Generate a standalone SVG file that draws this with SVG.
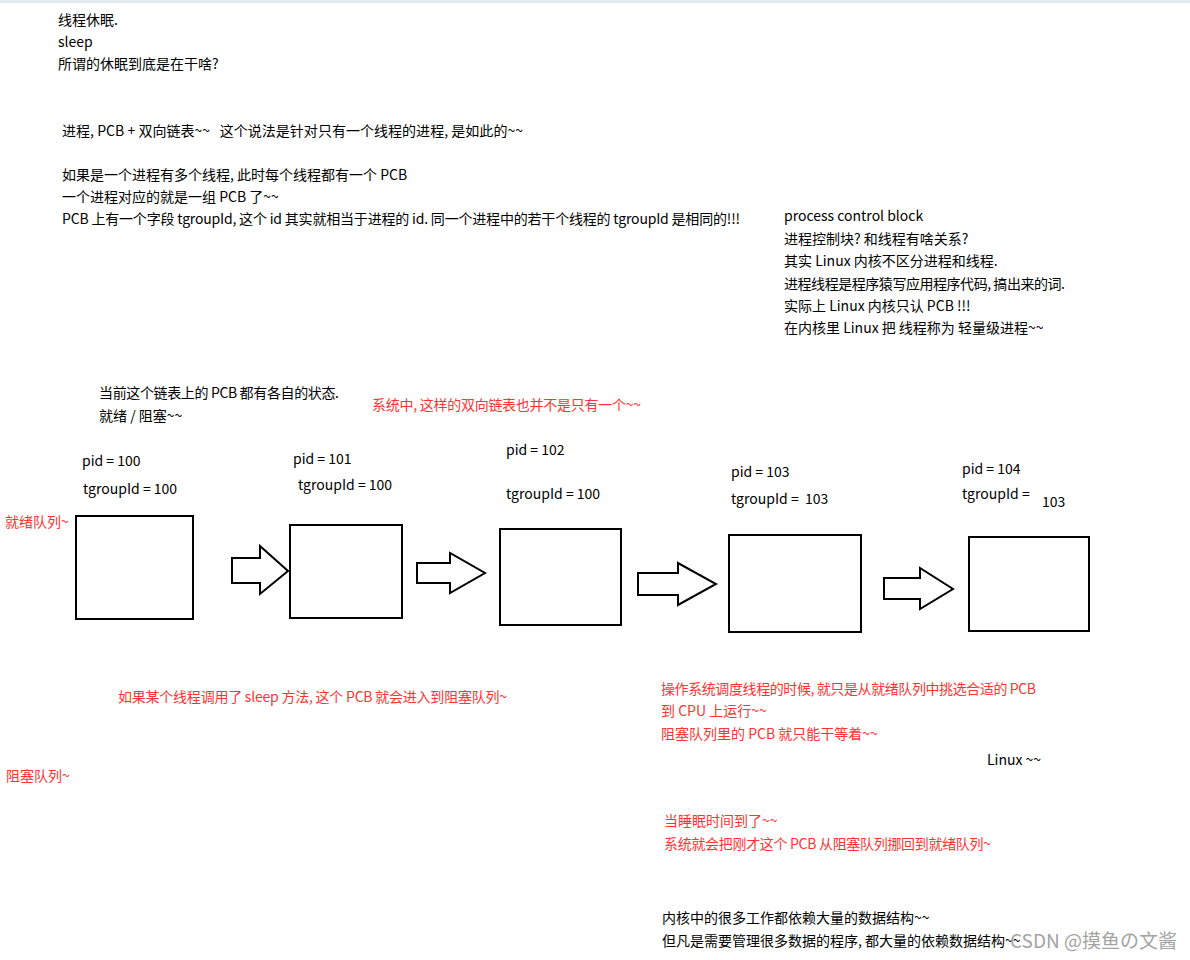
<svg xmlns="http://www.w3.org/2000/svg" width="1190" height="960" viewBox="0 0 1190 960">
<style>
text{font-family:"Noto Sans CJK SC","Noto Sans",sans-serif;font-size:14px;fill:#000}
.r{fill:#ff3333}
.wm{fill:#a3a3a3;font-size:19px}
.box{fill:#fff;stroke:#000;stroke-width:2}
.arr{fill:#fff;stroke:#000;stroke-width:2;stroke-linejoin:miter}
</style>
<rect x="0" y="0" width="1190" height="960" fill="#fff"/>
<rect x="0" y="0" width="1190" height="3" fill="#e6ebf3"/>
<g id="notes-top">
<text x="58" y="25">线程休眠.</text>
<text x="58" y="47">sleep</text>
<text x="58" y="69">所谓的休眠到底是在干啥?</text>
<text x="62" y="136" xml:space="preserve" textLength="461" lengthAdjust="spacing">进程, PCB + 双向链表~~   这个说法是针对只有一个线程的进程, 是如此的~~</text>
<text x="62" y="180">如果是一个进程有多个线程, 此时每个线程都有一个 PCB</text>
<text x="62" y="202">一个进程对应的就是一组 PCB 了~~</text>
<text x="62" y="224" textLength="678" lengthAdjust="spacing">PCB 上有一个字段 tgroupId, 这个 id 其实就相当于进程的 id. 同一个进程中的若干个线程的 tgroupId 是相同的!!!</text>
</g>
<g id="notes-right">
<text x="784" y="221">process control block</text>
<text x="784" y="244">进程控制块? 和线程有啥关系?</text>
<text x="784" y="266">其实 Linux 内核不区分进程和线程.</text>
<text x="784" y="289" textLength="281" lengthAdjust="spacing">进程线程是程序猿写应用程序代码, 搞出来的词.</text>
<text x="784" y="311">实际上 Linux 内核只认 PCB !!!</text>
<text x="784" y="333">在内核里 Linux 把 线程称为 轻量级进程~~</text>
</g>
<g id="notes-state">
<text x="99" y="398" textLength="240" lengthAdjust="spacing">当前这个链表上的 PCB 都有各自的状态.</text>
<text x="99" y="421">就绪 / 阻塞~~</text>
<text class="r" x="372" y="410" textLength="269" lengthAdjust="spacing">系统中, 这样的双向链表也并不是只有一个~~</text>
</g>
<g id="label-ready"><text class="r" x="5" y="527">就绪队列~</text></g>
<g id="pcb100">
<text x="82" y="466">pid = 100</text>
<text x="83" y="494">tgroupId = 100</text>
<rect class="box" x="76" y="516" width="117" height="103"/>
</g>
<g id="pcb101">
<text x="293" y="464">pid = 101</text>
<text x="298" y="490">tgroupId = 100</text>
<rect class="box" x="290" y="525" width="112" height="93"/>
</g>
<g id="pcb102">
<text x="506" y="455">pid = 102</text>
<text x="506" y="499">tgroupId = 100</text>
<rect class="box" x="500" y="529" width="121" height="96"/>
</g>
<g id="pcb103">
<text x="731" y="477">pid = 103</text>
<text x="731" y="504" xml:space="preserve">tgroupId =  103</text>
<rect class="box" x="729" y="535" width="132" height="97"/>
</g>
<g id="pcb104">
<text x="962" y="474">pid = 104</text>
<text x="962" y="499">tgroupId =</text>
<text x="1042" y="507">103</text>
<rect class="box" x="969" y="537" width="120" height="94"/>
</g>
<g id="connectors">
<polygon class="arr" points="232,558 260,558 260,546 288,571 260,594 260,583 232,583"/>
<polygon class="arr" points="417,563 450,563 450,553 485,573 450,593 450,583 417,583"/>
<polygon class="arr" points="638,573 678,573 678,563 716,584 678,605 678,595 638,595"/>
<polygon class="arr" points="884,578 920,578 920,568 953,589 920,609 920,599 884,599"/>
</g>
<g id="notes-sleep">
<text class="r" x="118" y="702" textLength="389" lengthAdjust="spacing">如果某个线程调用了 sleep 方法, 这个 PCB 就会进入到阻塞队列~</text>
</g>
<g id="label-blocked"><text class="r" x="6" y="781">阻塞队列~</text></g>
<g id="notes-sched">
<text class="r" x="661" y="694" textLength="375" lengthAdjust="spacing">操作系统调度线程的时候, 就只是从就绪队列中挑选合适的 PCB</text>
<text class="r" x="661" y="716">到 CPU 上运行~~</text>
<text class="r" x="661" y="739">阻塞队列里的 PCB 就只能干等着~~</text>
<text x="987" y="765">Linux ~~</text>
</g>
<g id="notes-wake">
<text class="r" x="664" y="826">当睡眠时间到了~~</text>
<text class="r" x="664" y="849" textLength="327" lengthAdjust="spacing">系统就会把刚才这个 PCB 从阻塞队列挪回到就绪队列~</text>
</g>
<g id="notes-bottom">
<text x="662" y="923">内核中的很多工作都依赖大量的数据结构~~</text>
<text x="662" y="946">但凡是需要管理很多数据的程序, 都大量的依赖数据结构~~</text>
</g>
<text class="wm" x="1010" y="948">CSDN @摸鱼の文酱</text>
</svg>
